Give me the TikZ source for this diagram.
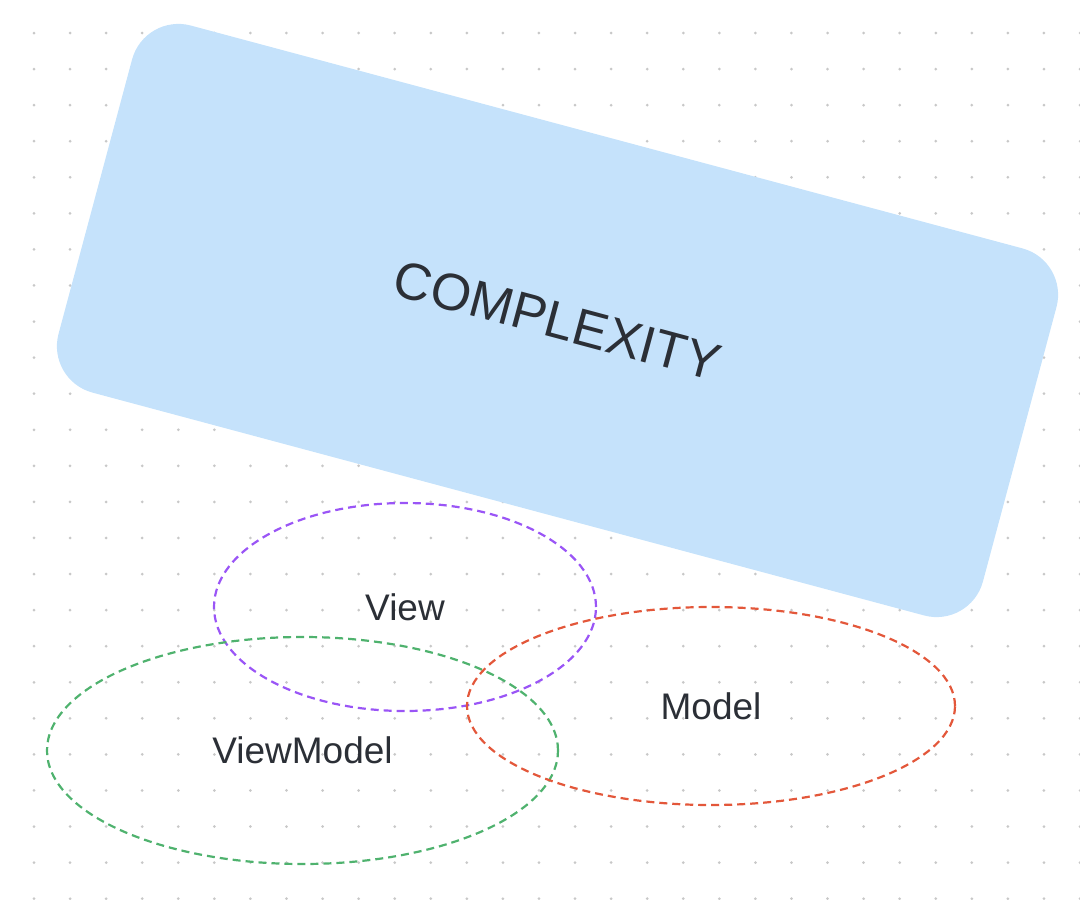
\documentclass[tikz,border=0pt]{standalone}
\usepackage{fontspec}
\setmainfont{Liberation Sans}
\usetikzlibrary{shapes.geometric}
\definecolor{boxblue}{HTML}{C5E2FB}
\definecolor{inkgray}{HTML}{2B2F36}
\definecolor{dotgray}{HTML}{C8C8C8}
\definecolor{viewpurple}{HTML}{9A55F6}
\definecolor{vmgreen}{HTML}{4FB26E}
\definecolor{modelred}{HTML}{E3573A}
\begin{document}
\begin{tikzpicture}[x=1pt,y=-1pt,line join=round,
	complexity/.style={rectangle,rounded corners=48pt,fill=boxblue,text=inkgray,inner sep=0pt,outer sep=0pt,
		minimum width=957pt,minimum height=380pt,rotate=-15,font=\fontsize{52}{60}\selectfont},
	layer/.style={ellipse,draw=#1,line width=2.2pt,dash pattern=on 8pt off 5pt,text=inkgray,
		inner sep=0pt,font=\fontsize{37}{44}\selectfont}]
	\useasboundingbox (0,0) rectangle (1080,900);
	% dotted canvas
	\foreach \i in {0,...,29}
		\foreach \j in {0,...,24}
			\fill[dotgray] (34+36.07*\i,33+36.07*\j) circle (1.5pt);
	\node[complexity] (cx) at (557.5,320.5) {COMPLEXITY};
	% the three layers
	\foreach \n/\c/\p/\w/\h/\t in {view/viewpurple/{405,607}/382/208/View,
		vm/vmgreen/{302.5,750.5}/511/227/ViewModel,
		model/modelred/{711,706}/488/198/Model}
	\node[layer=\c,minimum width=\w pt,minimum height=\h pt] (\n) at (\p) {\t};
\end{tikzpicture}
\end{document}
